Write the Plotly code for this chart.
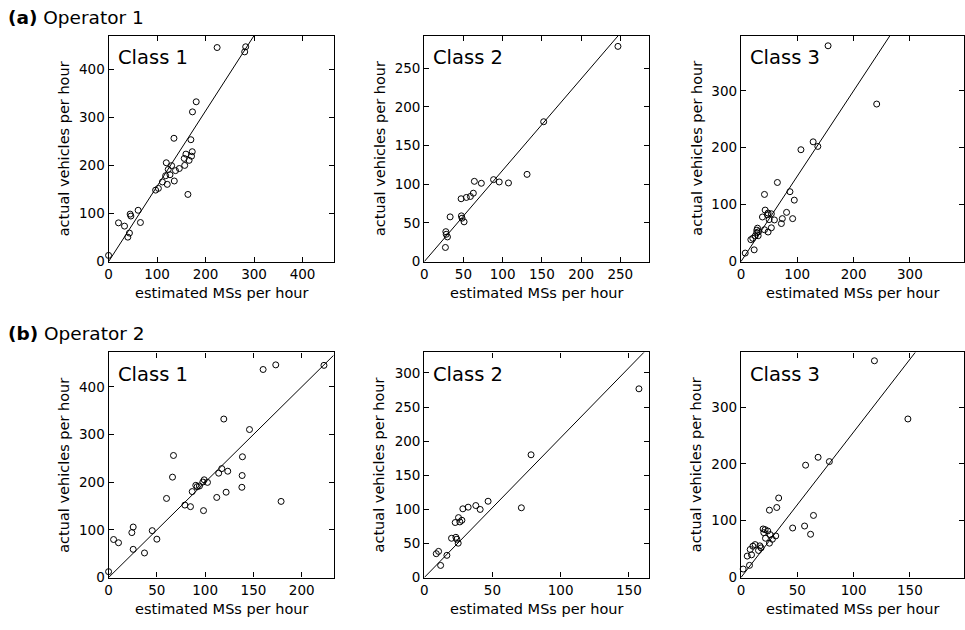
import plotly.graph_objects as go

# ---------------- data ----------------
op1_c1_x = [0, 20.5, 32.9, 39.7, 43, 44.5, 46, 61, 65.7, 97, 102.7, 111, 117.7, 119, 121, 123, 126.6, 130,
            134.8, 135.5, 138, 145.8, 156, 157, 159.5, 163.6, 166, 169.7, 171, 172.5, 173, 180.7, 223.8, 280.6, 282.7]
op1_c1_y = [13, 80.8, 74, 51, 59.5, 99, 95, 107, 81.5, 149, 152.6, 166, 179, 206, 161, 192, 181, 200,
            257, 168, 189.6, 194, 215, 200.5, 224, 140, 211, 254, 219.7, 229, 312, 333, 446, 437, 447.6]

op1_c2_x = [27, 27.5, 28, 29.6, 33, 47, 47.4, 48.2, 50.8, 53.7, 58.8, 62.6, 63.9, 72.8, 88.4, 95.6, 107.4, 131.1, 152.3, 247]
op1_c2_y = [18.3, 38.7, 35.3, 31.9, 57.8, 81.2, 59.1, 56.1, 51.4, 82.9, 84.2, 88.4, 103.7, 101.2, 105.9, 102.9, 101.6, 112.7, 180.7, 278]

op1_c3_x = [7.6, 17.6, 21, 23.5, 25.3, 28, 28.2, 29.4, 30.6, 31.2, 38.2, 41.8, 41.8, 43, 47, 48.2, 50, 48.2, 54, 54,
            59.4, 64.7, 71.8, 73.5, 81, 87, 91.8, 94.7, 106.5, 128.2, 136.5, 154.7, 241]
op1_c3_y = [15, 38.6, 41, 20.7, 45, 50.7, 55.3, 58.8, 45.5, 52.4, 78.4, 118, 56, 90.5, 82.4, 85.3, 73.8, 52, 84, 59.4,
            73.2, 139, 66.9, 75.5, 86.5, 122.8, 75.5, 108, 196.5, 210.4, 202.3, 379, 276.7]

op2_c1_x = [0, 5.2, 10.3, 24.1, 25.5, 25.5, 37.2, 45.2, 50, 60, 66.2, 67.2, 79, 84.8, 86.6, 90.3, 91.7, 94.1, 97.6, 98.3,
            99, 102.4, 112, 114, 117.2, 119.3, 121.7, 123.4, 138, 138.3, 138.6, 145.9, 160, 173.1, 178.6, 223]
op2_c1_y = [12.4, 79.8, 73, 94.3, 106, 59.2, 51.6, 98.4, 80.5, 165.9, 210.6, 256, 152, 148.7, 180.3, 193.4, 190.6, 192, 200.3, 140.4,
            205, 199.6, 168, 218.9, 228.5, 332.4, 179, 223, 189.3, 214, 253.3, 310.4, 436.3, 446, 159.7, 445]

op2_c2_x = [8.8, 10.5, 12, 16.6, 20, 22.7, 23.2, 23.9, 24.9, 25.1, 26.1, 27.6, 28.3, 32.2, 37.8, 41, 46.8, 71.2, 78.3, 157.4]
op2_c2_y = [35, 38.4, 17.8, 32.6, 57.6, 80.7, 59, 56.2, 50.4, 87.9, 81.6, 84, 100.8, 103.2, 105.6, 99.9, 111.9, 102.3, 180, 276.7]

op2_c3_x = [2, 5.6, 7.6, 8.2, 9.4, 10.6, 12.6, 15.6, 16.8, 17.9, 19.7, 20.3, 21.5, 21.8, 23.8, 25.3, 25.3, 25.9, 27.9, 30.9,
            31.8, 33.5, 45.9, 56.5, 57.4, 61.8, 64.4, 68.5, 78.5, 118.5, 148.2]
op2_c3_y = [15, 37.8, 21.5, 49.4, 40, 55.2, 58, 47.7, 55.8, 52.3, 85.5, 79, 84.3, 69.2, 82, 118.6, 60.5, 75.6, 67.4, 73.3,
            123.3, 140, 87.2, 90.7, 197.7, 76.2, 109.3, 211.6, 204, 381.4, 279]

# fitted slopes of the lines through the origin
fit_slopes = [1.57, 1.18, 1.5, 2.0, 2.05, 2.56]

class_labels = ["Class 1", "Class 2", "Class 3", "Class 1", "Class 2", "Class 3"]
row_titles = ["<b>(a)</b> Operator 1", "<b>(b)</b> Operator 2"]
x_title = "estimated MSs per hour"
y_title = "actual vehicles per hour"

x_ranges = [[0, 464], [0, 287], [0, 396], [0, 233], [0, 165], [0, 198]]
y_ranges = [[0, 471], [0, 292], [0, 397], [0, 472], [0, 330], [0, 396]]
x_dticks = [100, 50, 100, 50, 50, 50]
y_dticks = [100, 50, 100, 100, 50, 100]

series = [(op1_c1_x, op1_c1_y), (op1_c2_x, op1_c2_y), (op1_c3_x, op1_c3_y),
          (op2_c1_x, op2_c1_y), (op2_c2_x, op2_c2_y), (op2_c3_x, op2_c3_y)]

# ---------------- layout geometry ----------------
W, H = 965, 630
col_px = [(105, 331), (422, 648), (740, 964)]
row_px = [(36, 265), (357, 585)]
FONT = "DejaVu Sans"

fig = go.Figure()
layout = dict(width=W, height=H, margin=dict(l=0, r=0, t=0, b=0),
              paper_bgcolor="white", plot_bgcolor="white", showlegend=False,
              font=dict(family=FONT, color="black", size=13))
annotations = []

for i in range(6):
    r, c = divmod(i, 3)
    xa = "xaxis" if i == 0 else f"xaxis{i+1}"
    ya = "yaxis" if i == 0 else f"yaxis{i+1}"
    xr = "x" if i == 0 else f"x{i+1}"
    yr = "y" if i == 0 else f"y{i+1}"
    x0, x1 = col_px[c]
    y0, y1 = row_px[r]
    axis_common = dict(showline=True, linecolor="black", linewidth=1.2, mirror="ticks",
                       ticks="inside", ticklen=5, tickwidth=1, tickcolor="black",
                       showgrid=False, zeroline=False,
                       tickfont=dict(family=FONT, size=13.5, color="black"))
    layout[xa] = dict(domain=[x0 / W, x1 / W], range=x_ranges[i], tick0=0, dtick=x_dticks[i],
                      anchor=yr, **axis_common)
    layout[ya] = dict(domain=[1 - y1 / H, 1 - y0 / H], range=y_ranges[i], tick0=0, dtick=y_dticks[i],
                      anchor=xr, **axis_common)

    xs, ys = series[i]
    fig.add_trace(go.Scatter(x=xs, y=ys, mode="markers", xaxis=xr, yaxis=yr, cliponaxis=False,
                             marker=dict(symbol="circle-open", size=6, color="black",
                                         line=dict(width=1, color="black"))))
    xl = [0, x_ranges[i][1]]
    fig.add_trace(go.Scatter(x=xl, y=[fit_slopes[i] * v for v in xl], mode="lines",
                             xaxis=xr, yaxis=yr, line=dict(color="black", width=1)))

    pw, ph = x1 - x0, y1 - y0
    annotations.append(dict(text=class_labels[i], xref=f"{xr} domain", yref=f"{yr} domain",
                            x=7 / pw, y=1 - 22 / ph, xanchor="left", yanchor="middle",
                            showarrow=False, font=dict(family=FONT, size=19.5, color="black")))
    annotations.append(dict(text=x_title, xref=f"{xr} domain", yref=f"{yr} domain",
                            x=0.5, y=-32 / ph, xanchor="center", yanchor="middle",
                            showarrow=False, font=dict(family=FONT, size=14.5, color="black")))
    annotations.append(dict(text=y_title, xref=f"{xr} domain", yref=f"{yr} domain",
                            x=-45 / pw, y=0.5, xanchor="center", yanchor="middle", textangle=-90,
                            showarrow=False, font=dict(family=FONT, size=14.5, color="black")))

for r, t in enumerate(row_titles):
    yc = [17.5, 338][r]
    annotations.append(dict(text=t, xref="paper", yref="paper", x=2 / W, y=1 - yc / H,
                            xanchor="left", yanchor="middle", showarrow=False,
                            font=dict(family=FONT, size=18.5, color="black")))

layout["annotations"] = annotations
fig.update_layout(**layout)
fig.write_html("out.html")
